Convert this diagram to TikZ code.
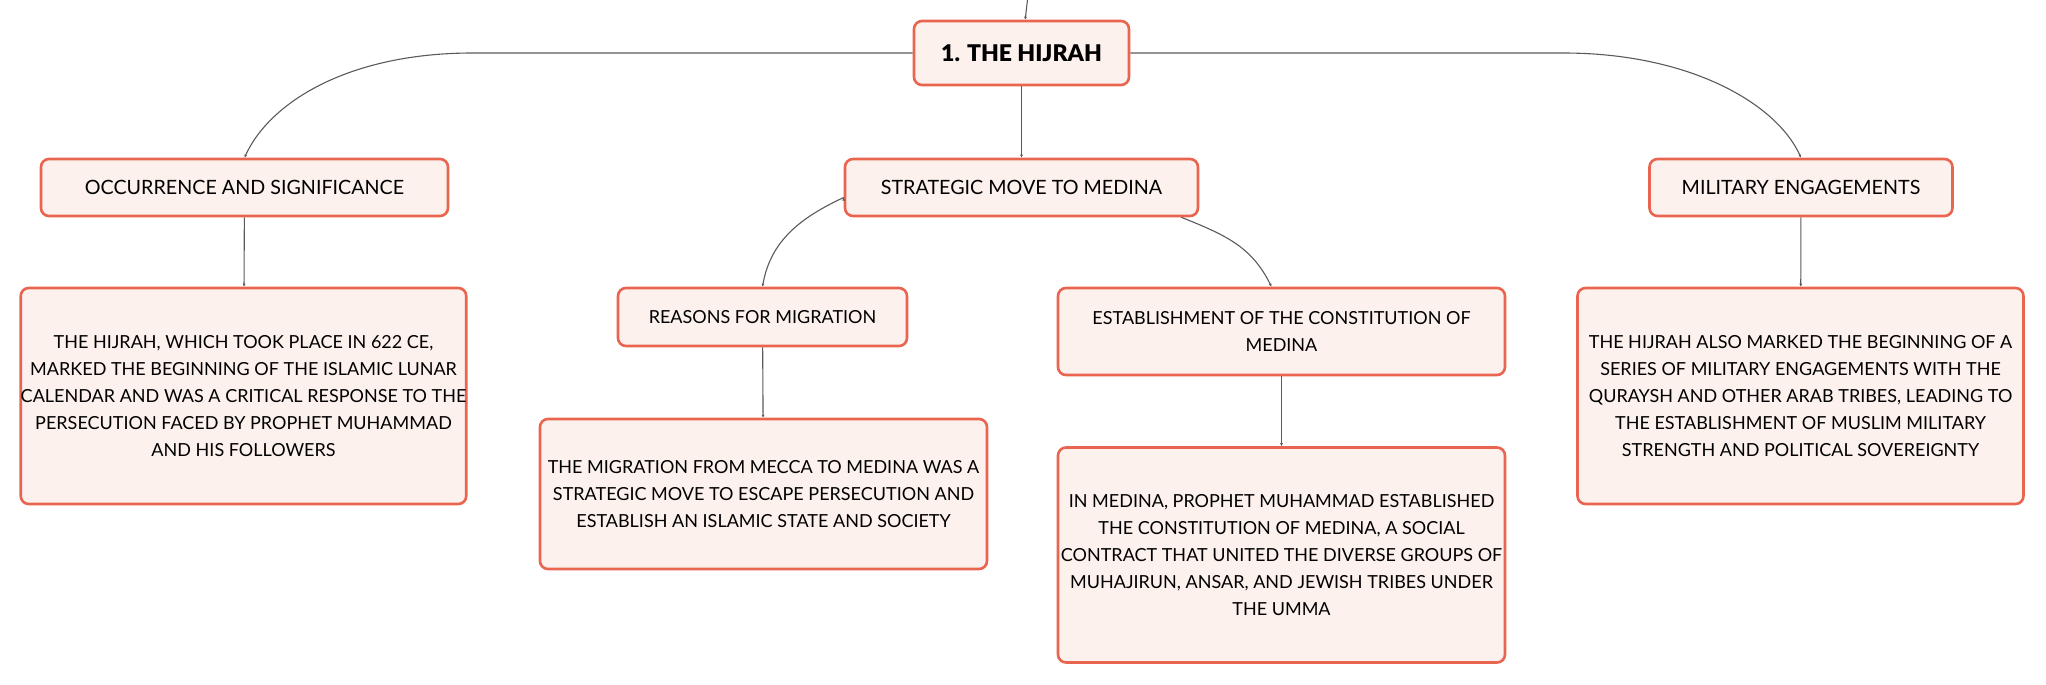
\documentclass[tikz,border=0pt]{standalone}
\usepackage{fontspec}
\setmainfont{Lato}
\newfontfamily\heavyfont{Lato Black}
\usetikzlibrary{arrows.meta,positioning}
\definecolor{boxline}{HTML}{EA6550}
\definecolor{boxfill}{HTML}{FDF1ED}
\definecolor{linkgray}{HTML}{5A5A5A}

\begin{document}
\begin{tikzpicture}[x=1pt,y=1pt]
                \tikzstyle{topic} = [shape=rectangle, rounded corners=8pt, fill=boxfill, draw=boxline, line width=2.6pt, align=center, inner sep=0pt, font=\fontsize{19.7}{27}\selectfont];
                \tikzstyle{note} = [topic, font=\fontsize{18}{27}\selectfont];
                \tikzstyle{link} = [-{Latex[length=3pt,width=3pt]}, line width=1.1pt, draw=linkgray];

                \useasboundingbox (0,0) rectangle (2046,-685);

                \node[topic, minimum width=215, minimum height=64, font=\heavyfont\fontsize{23}{27}\selectfont](H) at (1021.5,-53) {1. THE HIJRAH};
                \node[topic, minimum width=407, minimum height=57](O) at (244.5,-187.5) {OCCURRENCE AND SIGNIFICANCE};
                \node[topic, minimum width=353, minimum height=57](S) at (1021.5,-187.5) {STRATEGIC MOVE TO MEDINA};
                \node[topic, minimum width=303, minimum height=57](M) at (1801,-187.5) {MILITARY ENGAGEMENTS};

                \node[note, minimum width=445, minimum height=216](OT) at (243.5,-396) {THE HIJRAH, WHICH TOOK PLACE IN 622 CE,\\MARKED THE BEGINNING OF THE ISLAMIC LUNAR\\CALENDAR AND WAS A CRITICAL RESPONSE TO THE\\PERSECUTION FACED BY PROPHET MUHAMMAD\\AND HIS FOLLOWERS};
                \node[note, minimum width=289, minimum height=58](R) at (762.5,-317) {REASONS FOR MIGRATION};
                \node[note, minimum width=447, minimum height=87](E) at (1281.5,-331.5) {ESTABLISHMENT OF THE CONSTITUTION OF\\MEDINA};
                \node[note, minimum width=446, minimum height=216](MT) at (1800.5,-396) {THE HIJRAH ALSO MARKED THE BEGINNING OF A\\SERIES OF MILITARY ENGAGEMENTS WITH THE\\QURAYSH AND OTHER ARAB TRIBES, LEADING TO\\THE ESTABLISHMENT OF MUSLIM MILITARY\\STRENGTH AND POLITICAL SOVEREIGNTY};
                \node[note, minimum width=447, minimum height=150](RT) at (763.5,-494) {THE MIGRATION FROM MECCA TO MEDINA WAS A\\STRATEGIC MOVE TO ESCAPE PERSECUTION AND\\ESTABLISH AN ISLAMIC STATE AND SOCIETY};
                \node[note, minimum width=447, minimum height=215](ET) at (1281.5,-555) {IN MEDINA, PROPHET MUHAMMAD ESTABLISHED\\THE CONSTITUTION OF MEDINA, A SOCIAL\\CONTRACT THAT UNITED THE DIVERSE GROUPS OF\\MUHAJIRUN, ANSAR, AND JEWISH TRIBES UNDER\\THE UMMA};

                \coordinate (top) at (1028,5);

                \draw[link] (H.west) -- ++(-440,0) .. controls +(-125,0) and +(25,55) .. (O.north);
                \draw[link] (H.east) -- ++(433,0) .. controls +(125,0) and +(-25,55) .. (M.north);
                \draw[link] ([xshift=-18pt]S.south east) .. controls +(45,-18) and +(-20,40) .. ([xshift=-10pt]E.north);

                \draw[link]
                    (top) edge (H)
                    (H) edge (S)
                    ([yshift=-10pt]S.west) edge[out=205,in=80] (R.north)
                    (O) edge (OT)
                    (M) edge (MT)
                    (R) edge (RT)
                    (E) edge (ET)
                ;
            \end{tikzpicture}
\end{document}
